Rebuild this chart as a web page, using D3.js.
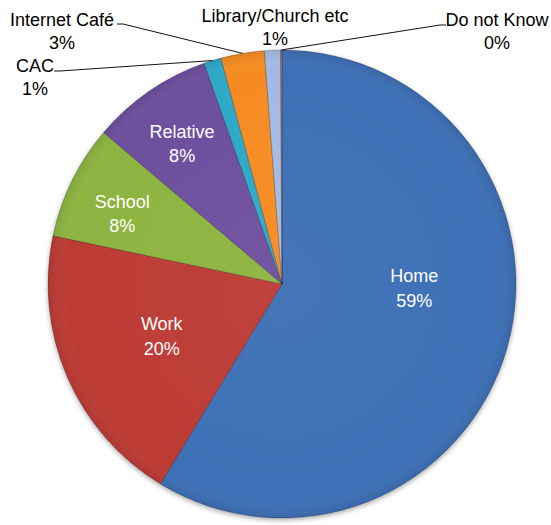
<!DOCTYPE html>
<html lang="en">
<head>
    <meta charset="utf-8">
    <title>Where people access the internet</title>
    <script src="https://d3js.org/d3.v7.min.js"></script>
<style>
    body { margin: 0; background: #fff; }
    #chart1 { width: 551px; height: 525px; }
    text { font-family: "Liberation Sans", Arial, sans-serif; font-size: 18px; }
</style>
</head>
<body>
  <div id="chart1"></div>

<script>
    // data (percent)
    const categories = ["Home", "Work", "School", "Relative", "CAC", "Internet Café", "Library/Church etc", "Do not Know"]
    const values = [58.7, 19.6, 7.9, 8.4, 1.2, 3.0, 1.1, 0.1]
    const colors = ["#3d6fb6", "#bd3a36", "#8db43f", "#6e4f9e", "#2fa9c8", "#f68b20", "#a2bbe6", "#b56d6c"]

    const chartApp = {}

    chartApp.buildChart = () => {
        const width = 551, height = 525
        const cx = 282, cy = 284, radius = 234

        const svg = d3.select("#chart1")
            .append("svg")
            .attr("width", width)
            .attr("height", height)

        const defs = svg.append("defs")
        const shadow = defs.append("filter").attr("id", "shadow")
            .attr("x", "-10%").attr("y", "-10%").attr("width", "120%").attr("height", "120%")
        shadow.append("feDropShadow")
            .attr("dx", 0).attr("dy", 2)
            .attr("stdDeviation", 2.5)
            .attr("flood-color", "#000")
            .attr("flood-opacity", 0.35)

        // soft sheen over the whole pie
        const sheen = defs.append("radialGradient").attr("id", "sheen")
            .attr("cx", "50%").attr("cy", "50%").attr("r", "50%")
        sheen.append("stop").attr("offset", "0%").attr("stop-color", "#fff").attr("stop-opacity", 0.04)
        sheen.append("stop").attr("offset", "92%").attr("stop-color", "#fff").attr("stop-opacity", 0)
        sheen.append("stop").attr("offset", "100%").attr("stop-color", "#000").attr("stop-opacity", 0.08)

        const data = categories.map((c, i) => ({ name: c, value: values[i], color: colors[i] }))

        const pie = d3.pie()
            .sort(null)
            .value(d => d.value)
            .startAngle(0)
            .endAngle(2 * Math.PI)

        const arc = d3.arc().innerRadius(0).outerRadius(radius)
        const arcs = pie(data)

        const g = svg.append("g")
            .attr("transform", "translate(" + cx + "," + cy + ")")

        const slices = g.append("g").attr("filter", "url(#shadow)")
        slices.selectAll("path")
            .data(arcs)
            .enter()
            .append("path")
            .attr("d", arc)
            .attr("fill", d => d.data.color)
            .attr("stroke", "rgba(0,0,0,0.25)")
            .attr("stroke-width", 0.8)

        g.append("circle")
            .attr("r", radius)
            .attr("fill", "url(#sheen)")
            .style("pointer-events", "none")

        const fmt = d => Math.round(d.value) + "%"

        // inside labels: radius factor along the slice mid angle, plus a nudge
        const insideLayout = {
            "Home":     { r: 0.56, dx: 6, dy: -31 },
            "Work":     { r: 0.56, dx: 0, dy: 0 },
            "School":   { r: 0.76, dx: 0, dy: 8 },
            "Relative": { r: 0.76, dx: 1, dy: 6 }
        }

        arcs.filter(d => insideLayout[d.data.name]).forEach(d => {
            const lay = insideLayout[d.data.name]
            const p = d3.arc().innerRadius(radius * lay.r).outerRadius(radius * lay.r).centroid(d)
            const t = g.append("text")
                .attr("text-anchor", "middle")
                .attr("fill", "#fff")
                .attr("transform", "translate(" + (p[0] + lay.dx) + "," + (p[1] + lay.dy) + ")")
            t.append("tspan").attr("x", 0).attr("y", -6).text(d.data.name)
            t.append("tspan").attr("x", 0).attr("y", 18.5).text(fmt(d.data))
        })

        // outside labels, placed like the dragged Excel labels (page coords of label centre / first baseline)
        const outsideLayout = {
            "CAC":                { x: 35,  y: 72, lx: 54,  ly: 71, hx: 60 },
            "Internet Café":      { x: 62,  y: 26, lx: 117, ly: 24, hx: 123 },
            "Library/Church etc": { x: 275, y: 22 },
            "Do not Know":        { x: 497, y: 26, lx: 446, ly: 25, hx: 440 }
        }

        arcs.filter(d => outsideLayout[d.data.name]).forEach(d => {
            const lay = outsideLayout[d.data.name]
            if (lay.lx !== undefined) {
                const mid = (d.startAngle + d.endAngle) / 2
                const ex = cx + radius * Math.sin(mid)
                const ey = cy - radius * Math.cos(mid)
                svg.append("path")
                    .attr("d", "M" + lay.lx + "," + lay.ly + "H" + lay.hx + "L" + ex + "," + ey)
                    .attr("fill", "none")
                    .attr("stroke", "#111")
                    .attr("stroke-width", 1)
            }
            const t = svg.append("text")
                .attr("text-anchor", "middle")
                .attr("fill", "#000")
            t.append("tspan").attr("x", lay.x).attr("y", lay.y).text(d.data.name)
            t.append("tspan").attr("x", lay.x).attr("y", lay.y + 23).text(fmt(d.data))
        })
    }

    chartApp.init = () => {
        chartApp.buildChart()
    }
    chartApp.init()
</script>
</body>
</html>
